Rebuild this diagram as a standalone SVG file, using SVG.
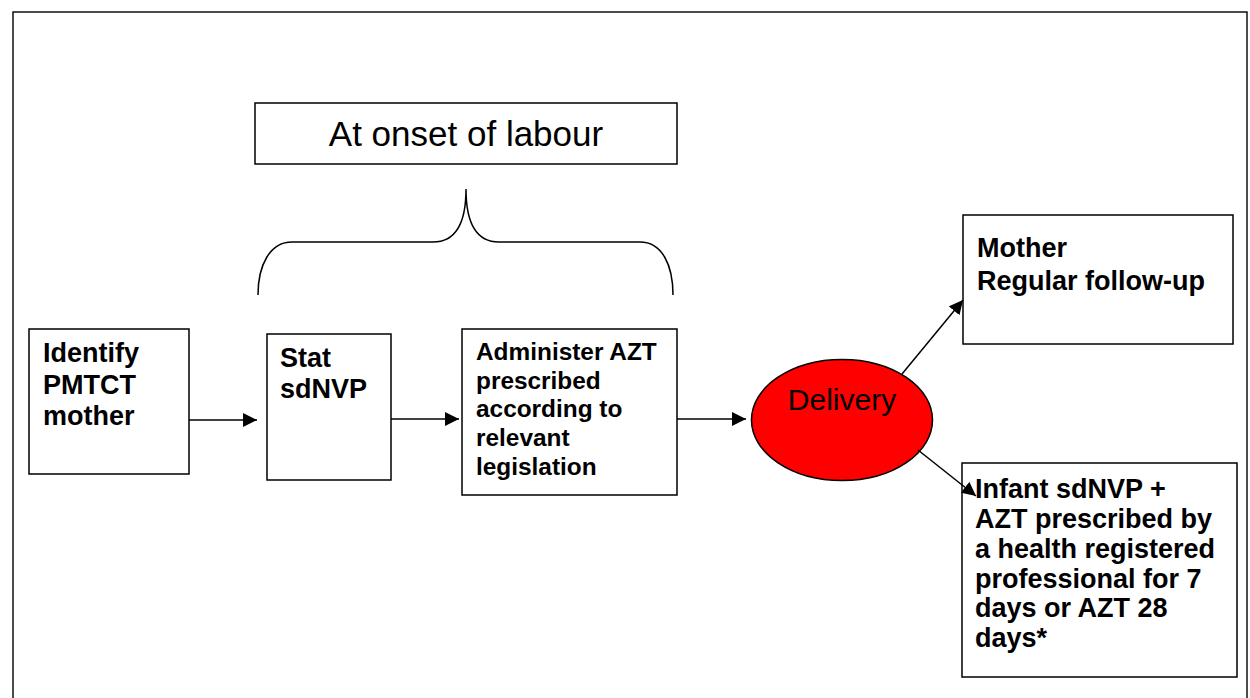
<svg xmlns="http://www.w3.org/2000/svg" width="1250" height="698" viewBox="0 0 1250 698">
  <defs>
    <marker id="arrow" markerUnits="userSpaceOnUse" markerWidth="15" markerHeight="14" refX="14" refY="7" orient="auto">
      <path d="M0,0 L14,7 L0,14 z" fill="#000"/>
    </marker>
    <style>
      .box { fill: #fff; stroke: #000; stroke-width: 1.5; }
      .frame { fill: #fff; stroke: #000; stroke-width: 1.4; }
      .lbl { font-family: "Liberation Sans", Arial, sans-serif; font-weight: bold; font-size: 27px; fill: #000; }
      .small { font-size: 24.4px; }
      .plain { font-family: "Liberation Sans", Arial, sans-serif; fill: #000; }
      .conn { fill: none; stroke: #000; stroke-width: 1.5; }
    </style>
  </defs>

  <!-- page frame -->
  <rect class="frame" x="13" y="12" width="1234" height="700"/>

  <!-- heading above the bracket -->
  <g id="onset">
    <rect class="box" x="255" y="103" width="422" height="61"/>
    <text class="plain" x="466" y="146" font-size="35" text-anchor="middle">At onset of labour</text>
  </g>

  <!-- curly bracket spanning the two labour steps -->
  <g id="bracket">
    <path class="conn" stroke-width="1.8" d="M258,295 C258,265 270,242 292,242 L433,242 C455,242 466,225 466,189 C466,225 477,242 499,242 L640,242 C662,242 673,265 673,295"/>
  </g>

  <g id="identify">
    <rect class="box" x="29" y="329" width="160" height="145"/>
    <text class="lbl" x="43" y="362">Identify</text>
    <text class="lbl" x="43" y="394">PMTCT</text>
    <text class="lbl" x="43" y="425">mother</text>
  </g>

  <g id="stat">
    <rect class="box" x="267" y="334" width="124" height="146"/>
    <text class="lbl" x="280" y="367">Stat</text>
    <text class="lbl" x="280" y="398">sdNVP</text>
  </g>

  <g id="administer">
    <rect class="box" x="462" y="329" width="215" height="166"/>
    <text class="lbl small" x="476" y="360">Administer AZT</text>
    <text class="lbl small" x="476" y="389">prescribed</text>
    <text class="lbl small" x="476" y="417">according to</text>
    <text class="lbl small" x="476" y="446">relevant</text>
    <text class="lbl small" x="476" y="475">legislation</text>
  </g>

  <g id="delivery">
    <ellipse cx="842" cy="420" rx="90.5" ry="60.5" fill="#ff0000" stroke="#000" stroke-width="1.5"/>
    <text class="plain" x="842" y="410" font-size="30" text-anchor="middle">Delivery</text>
  </g>

  <g id="mother">
    <rect class="box" x="963" y="215" width="270" height="129"/>
    <text class="lbl" x="977" y="257">Mother</text>
    <text class="lbl" x="977" y="290">Regular follow-up</text>
  </g>

  <g id="infant">
    <rect class="box" x="962" y="463" width="275" height="214"/>
    <text class="lbl" x="975" y="498">Infant sdNVP +</text>
    <text class="lbl" x="975" y="528">AZT prescribed by</text>
    <text class="lbl" x="975" y="558">a health registered</text>
    <text class="lbl" x="975" y="588">professional for 7</text>
    <text class="lbl" x="975" y="617">days or AZT 28</text>
    <text class="lbl" x="975" y="647">days*</text>
  </g>

  <g id="connectors">
    <line class="conn" x1="189" y1="420" x2="257" y2="420" marker-end="url(#arrow)"/>
    <line class="conn" x1="391" y1="419" x2="459" y2="419" marker-end="url(#arrow)"/>
    <line class="conn" x1="677" y1="419" x2="746" y2="419" marker-end="url(#arrow)"/>
    <line class="conn" x1="902" y1="374" x2="963" y2="300" marker-end="url(#arrow)"/>
    <line class="conn" x1="918" y1="450" x2="976" y2="496" marker-end="url(#arrow)"/>
  </g>
</svg>
